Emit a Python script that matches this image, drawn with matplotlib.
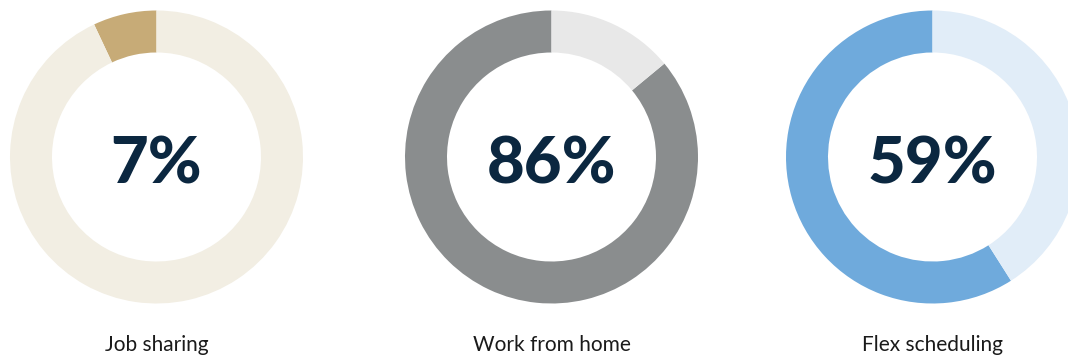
import matplotlib.pyplot as plt

labels = ["Job sharing", "Work from home", "Flex scheduling"]
values = [7, 86, 59]
main_colors = ["#C7AB77", "#8A8D8E", "#6FAADC"]
back_colors = ["#F2EEE3", "#E8E8E8", "#E1EDF8"]
centers_x = [156.5, 551.5, 932.5]

W, H = 1068, 358
cy = H - 157
r_out = 146.5
ring = 42
text_color = "#0B2740"

fig = plt.figure(figsize=(W / 100, H / 100), dpi=100)
ax = fig.add_axes([0, 0, 1, 1])

for lab, v, c1, c2, cx in zip(labels, values, main_colors, back_colors, centers_x):
    ax.pie([v, 100 - v], colors=[c1, c2], startangle=90, counterclock=True,
           center=(cx, cy), radius=r_out,
           wedgeprops=dict(width=ring, linewidth=0))
    ax.text(cx, cy - 8, f"{v}%", ha="center", va="center", fontsize=47,
            fontweight=900, family="Lato", color=text_color)
    ax.text(cx, H - 345, lab, ha="center", va="center", fontsize=15,
            family="Lato", color="#1a1a1a")

ax.set_xlim(0, W)
ax.set_ylim(0, H)
ax.set_aspect("equal")
ax.axis("off")
fig.savefig("out.png", dpi=100)
